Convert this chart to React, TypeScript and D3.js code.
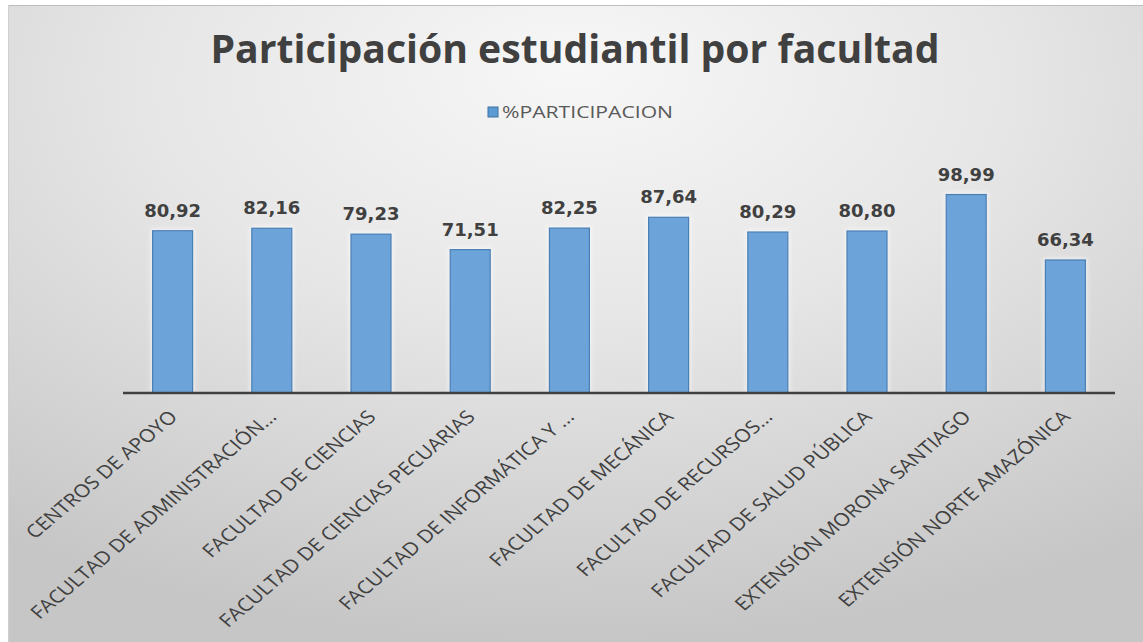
import React from "react";
import * as d3 from "d3";

const categories = [
  "CENTROS DE APOYO",
  "FACULTAD DE ADMINISTRACIÓN...",
  "FACULTAD DE CIENCIAS",
  "FACULTAD DE CIENCIAS PECUARIAS",
  "FACULTAD DE INFORMÁTICA Y ...",
  "FACULTAD DE MECÁNICA",
  "FACULTAD DE RECURSOS...",
  "FACULTAD DE SALUD PÚBLICA",
  "EXTENSIÓN MORONA SANTIAGO",
  "EXTENSIÓN NORTE AMAZÓNICA",
];
const participacion = [80.92, 82.16, 79.23, 71.51, 82.25, 87.64, 80.29, 80.8, 98.99, 66.34];
const seriesName = "%PARTICIPACION";
const title = "Participación estudiantil por facultad";

const W = 1143;
const H = 642;

export default function App() {
  const x = d3
    .scaleBand<number>()
    .domain(d3.range(categories.length))
    .range([123, 1115])
    .paddingInner(0.597)
    .paddingOuter(0.2985);
  const y = d3.scaleLinear().domain([0, 100]).range([393, 192.5]);
  const fmt = (v: number) => v.toFixed(2).replace(".", ",");

  return (
    <svg
      width={W}
      height={H}
      style={{ position: "absolute", left: 0, top: 0, display: "block" }}
    >
      <defs>
        <radialGradient id="bg" cx="50%" cy="15%" r="85%" fx="50%" fy="10%">
          <stop offset="0%" stopColor="#f7f7f7" />
          <stop offset="45%" stopColor="#e6e6e6" />
          <stop offset="100%" stopColor="#c6c6c6" />
        </radialGradient>
        <filter id="glow" x="-30%" y="-10%" width="160%" height="120%">
          <feGaussianBlur stdDeviation="2" />
        </filter>
      </defs>
      <rect x={0} y={0} width={W} height={H} fill="#ffffff" />
      <rect x={8} y={5} width={W - 8} height={H - 5} fill="url(#bg)" />
      <line x1={8} x2={W} y1={5.5} y2={5.5} stroke="#bdbdbd" strokeWidth={1} />
      <line x1={8.5} x2={8.5} y1={5} y2={H} stroke="#cfcfcf" strokeWidth={1} />

      <text
        x={575}
        y={63}
        textAnchor="middle"
        fontFamily="'Open Sans', sans-serif"
        fontWeight={700}
        fontSize={39}
        fill="#404040"
        textLength={729}
        lengthAdjust="spacingAndGlyphs"
      >
        {title}
      </text>

      <rect x={488} y={107} width={10} height={10} fill="#5b9bd5" stroke="#41719c" strokeWidth={1} />
      <text
        x={502}
        y={118}
        fontFamily="'Open Sans', sans-serif"
        fontSize={16}
        fill="#595959"
        textLength={171}
        lengthAdjust="spacingAndGlyphs"
      >
        {seriesName}
      </text>

      {participacion.map((v, i) => (
        <g key={i}>
          <rect
            x={x(i)! - 2}
            y={y(v) - 2}
            width={x.bandwidth() + 4}
            height={y(0) - y(v) + 2}
            fill="#ffffff"
            opacity={0.55}
            filter="url(#glow)"
          />
          <rect
            x={x(i)!}
            y={y(v)}
            width={x.bandwidth()}
            height={y(0) - y(v)}
            fill="#6ca4d9"
            stroke="#4a7fb5"
            strokeWidth={1.2}
          />
          <text
            x={x(i)! + x.bandwidth() / 2}
            y={y(v) - 14}
            textAnchor="middle"
            fontFamily="'DejaVu Sans', Verdana, sans-serif"
            fontWeight={700}
            fontSize={18}
            fill="#404040"
          >
            {fmt(v)}
          </text>
        </g>
      ))}

      <line x1={123} x2={1115} y1={393} y2={393} stroke="#404040" strokeWidth={2.5} />

      {categories.map((c, i) => {
        const cx = x(i)! + x.bandwidth() / 2;
        return (
          <text
            key={c}
            transform={`translate(${cx + 6},${418}) scale(1.18,1) rotate(-45)`}
            textAnchor="end"
            fontFamily="'Open Sans', sans-serif"
            fontSize={18}
            fill="#404040"
          >
            {c}
          </text>
        );
      })}
    </svg>
  );
}
